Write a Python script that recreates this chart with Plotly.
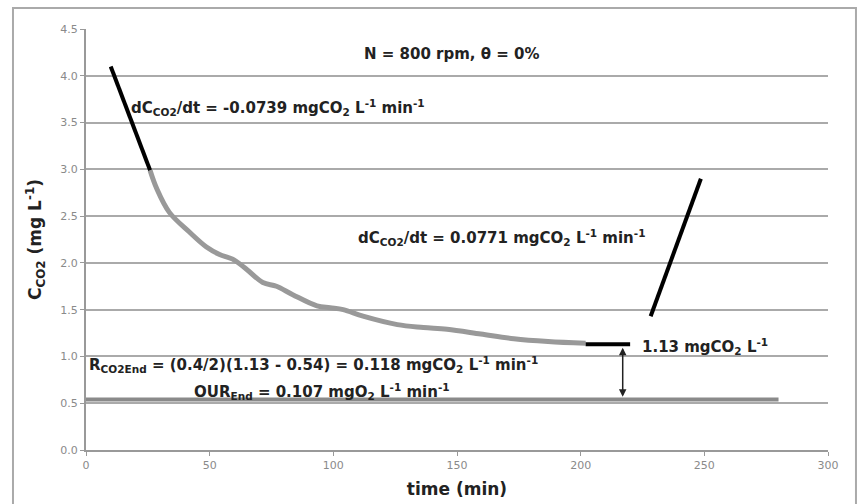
import plotly.graph_objects as go

# Measured CO2 concentration curve (grey)
curve_t = [25.9, 28.5, 33.7, 41.8, 48.7, 54.0, 59.3, 65.0, 71.5, 77.0, 83.6,
           93.4, 98.7, 104.0, 112.0, 125.9, 136.4, 146.0, 159.6, 173.0, 186.8, 202.0]
curve_c = [2.99, 2.80, 2.54, 2.33, 2.17, 2.09, 2.04, 1.93, 1.79, 1.75, 1.66,
           1.54, 1.52, 1.50, 1.43, 1.34, 1.31, 1.29, 1.24, 1.19, 1.16, 1.14]

# Fitted slope segments (black)
fall_t = [10.0, 25.9]
fall_c = [4.10, 2.99]
rise_t = [228.3, 248.6]
rise_c = [1.43, 2.90]
end_t = [202.0, 220.0]
end_c = [1.13, 1.13]

# OUR-equivalent level (grey horizontal)
our_t = [0, 280]
our_c = [0.54, 0.54]

arrow_t = 217
arrow_top = 1.13
arrow_bottom = 0.54

x_ticks = [0, 50, 100, 150, 200, 250, 300]
y_ticks = [0.0, 0.5, 1.0, 1.5, 2.0, 2.5, 3.0, 3.5, 4.0, 4.5]

fig = go.Figure()
fig.add_trace(go.Scatter(x=our_t, y=our_c, mode="lines",
                         line=dict(color="#8a8a8a", width=4), showlegend=False))
fig.add_trace(go.Scatter(x=curve_t, y=curve_c, mode="lines", line_shape="spline",
                         line=dict(color="#999999", width=5), showlegend=False))
for tt, cc in [(fall_t, fall_c), (rise_t, rise_c), (end_t, end_c)]:
    fig.add_trace(go.Scatter(x=tt, y=cc, mode="lines",
                             line=dict(color="#000000", width=4), showlegend=False))

tf = dict(family="DejaVu Sans", size=15, color="#222222")
def b(s):
    return "<b>" + s + "</b>"

anns = [
    dict(x=148, y=4.23, text=b("N = 800 rpm, θ = 0%"), xanchor="center"),
    dict(x=17.5, y=3.66, text=b("dC<sub>CO2</sub>/dt = -0.0739 mgCO<sub>2</sub> L<sup>-1</sup> min<sup>-1</sup>"), xanchor="left"),
    dict(x=109, y=2.27, text=b("dC<sub>CO2</sub>/dt = 0.0771 mgCO<sub>2</sub> L<sup>-1</sup> min<sup>-1</sup>"), xanchor="left"),
    dict(x=224, y=1.11, text=b("1.13 mgCO<sub>2</sub> L<sup>-1</sup>"), xanchor="left"),
    dict(x=0.3, y=0.91, text=b("R<sub>CO2End</sub> = (0.4/2)(1.13 - 0.54) = 0.118 mgCO<sub>2</sub> L<sup>-1</sup> min<sup>-1</sup>"), xanchor="left"),
    dict(x=43, y=0.63, text=b("OUR<sub>End</sub> = 0.107 mgO<sub>2</sub> L<sup>-1</sup> min<sup>-1</sup>"), xanchor="left"),
]
for a in anns:
    fig.add_annotation(xref="x", yref="y", showarrow=False, font=tf, yanchor="middle", **a)

# double-headed arrow
fig.add_annotation(xref="x", yref="y", axref="x", ayref="y",
                   x=arrow_t, y=arrow_bottom + 0.03, ax=arrow_t, ay=arrow_top - 0.02,
                   text="", showarrow=True, arrowhead=2, startarrowhead=2,
                   arrowside="end+start", arrowsize=1, startarrowsize=1,
                   arrowwidth=1.5, arrowcolor="#222222")

# outer frame
fig.add_shape(type="rect", xref="paper", yref="paper",
              x0=-0.0984, x1=1.0377, y0=-0.14, y1=1.05,
              line=dict(color="#aaaaaa", width=2), fillcolor="rgba(0,0,0,0)", layer="below")

fig.update_xaxes(range=[0, 300], tickvals=x_ticks, ticktext=[str(v) for v in x_ticks],
                 showgrid=False, zeroline=False, showline=True, linecolor="#999999",
                 linewidth=2, ticks="outside", ticklen=4, tickcolor="#999999",
                 automargin=False,
                 tickfont=dict(family="DejaVu Sans", size=11, color="#8a8a8a"),
                 title=dict(text="<b>time (min)</b>", standoff=12,
                            font=dict(family="DejaVu Sans", size=17, color="#222222")))
fig.update_yaxes(range=[0, 4.5], tickvals=y_ticks, ticktext=[f"{v:.1f}" for v in y_ticks],
                 showgrid=True, gridcolor="#aaaaaa", gridwidth=2, zeroline=False,
                 showline=True, linecolor="#999999", linewidth=2, ticks="outside",
                 ticklen=4, tickcolor="#999999", automargin=False,
                 tickfont=dict(family="DejaVu Sans", size=11, color="#8a8a8a"),
                 title=dict(text="<b>C<sub>CO2</sub> (mg L<sup>-1</sup>)</b>", standoff=14,
                            font=dict(family="DejaVu Sans", size=17, color="#222222")))

fig.update_layout(width=861, height=504, margin=dict(l=86, r=33, t=29, b=54),
                  plot_bgcolor="white", paper_bgcolor="white", showlegend=False)

fig.write_html("out.html", config={"displayModeBar": False},
               post_script="document.body.style.margin='0';")
